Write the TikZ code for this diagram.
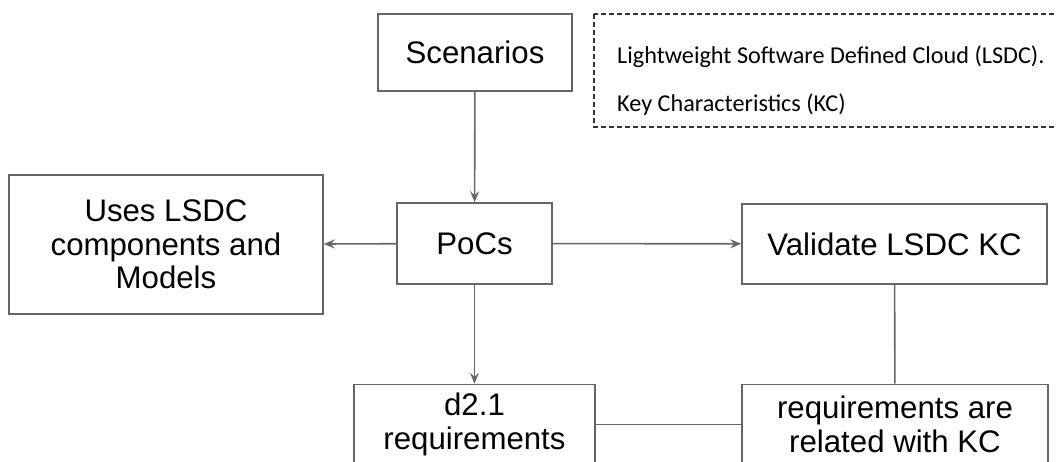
\documentclass[tikz,border=0pt]{standalone}
\usepackage{fontspec}
\setmainfont{Liberation Sans}
\newfontfamily\notefont{Carlito}
\usetikzlibrary{arrows.meta}
\definecolor{edgegray}{RGB}{102,102,102}
\definecolor{notegray}{RGB}{50,50,50}
\begin{document}
\begin{tikzpicture}[x=1pt,y=-1pt,
  box/.style={draw=edgegray,line width=1.6pt,fill=white,align=center,inner sep=0pt,
    font=\fontsize{31.2}{33.5}\selectfont},
  link/.style={draw=edgegray,line width=1.6pt},
  arr/.style={link,-{Stealth[length=11pt,width=9pt,inset=4pt]}},
  note/.style={anchor=base west,inner sep=0pt,font=\notefont\fontsize{24.2}{28}\selectfont}]
\useasboundingbox (0,0) rectangle (1057,462);
% legend box, cut at the right edge
\draw[draw=notegray,dash pattern=on 5pt off 3pt,line width=1.4pt] (594,14) rectangle (1075,127);
\node[note] (lsdc) at (617,64) {Lightweight Software Defined Cloud (LSDC).};
\node[note] (kc) at (617,112) {Key Characteristics (KC)};
% boxes
\node[box,minimum width=194pt,minimum height=77pt] (scen) at (475,52.5) {Scenarios};
\node[box,minimum width=155pt,minimum height=81pt] (pocs) at (474.5,243.5) {PoCs};
\node[box,minimum width=314pt,minimum height=139pt] (uses) at (166,244.5) {Uses LSDC\\components and\\Models};
\node[box,minimum width=305pt,minimum height=80pt] (val) at (894.5,244) {Validate LSDC KC};
\node[box,minimum width=241pt,minimum height=80pt] (dreq) at (474.5,424.5) {d2.1\\requirements};
\node[box,minimum width=306pt,minimum height=80pt] (relkc) at (895,424.5) {requirements are\\related with KC};
% connectors
\draw[arr] (scen) -- (pocs);
\draw[arr] (pocs) -- (uses);
\draw[arr] (pocs) -- (val);
\draw[arr] (pocs) -- (dreq);
\draw[link] (val) -- (relkc);
\draw[link] (dreq) -- (relkc);
\end{tikzpicture}
\end{document}
